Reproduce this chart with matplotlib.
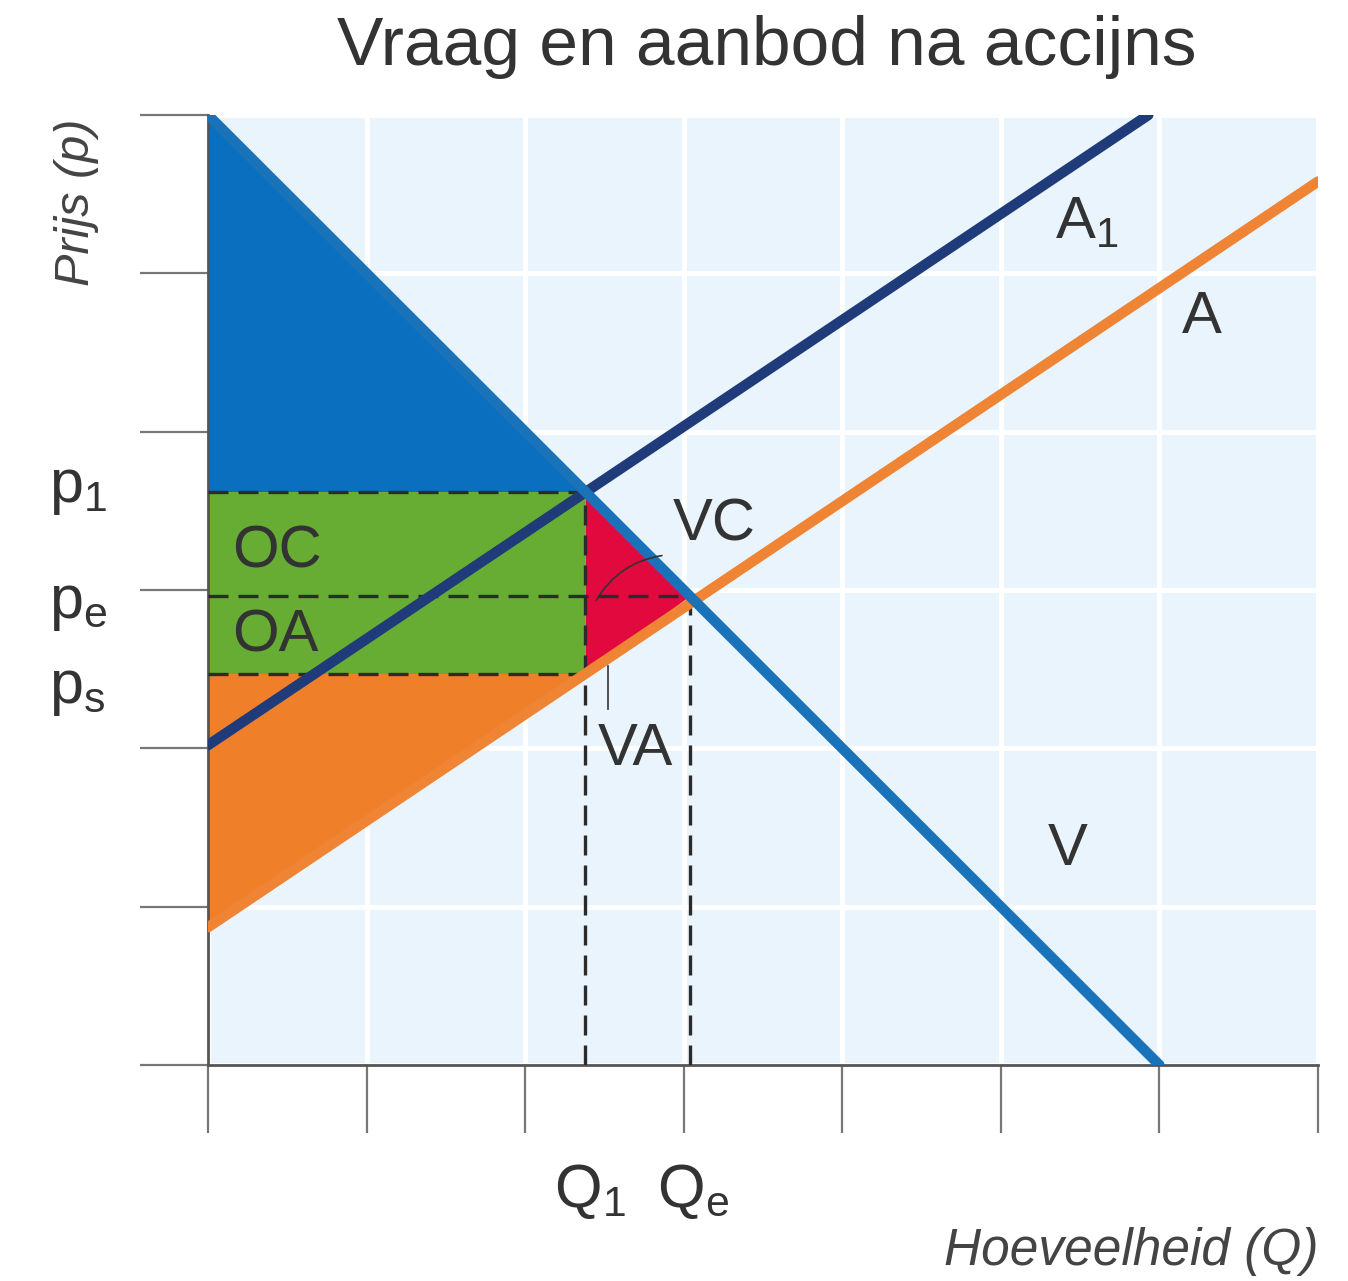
import matplotlib.pyplot as plt

# curves
v_q = [0, 6]
v_p = [6, 0]
a_q = [0, 7]
a_p = [0.87, 5.58]
a1_q = [0, 5.93]
a1_p = [2.02, 6.0]

# equilibrium values
q1, qe = 2.38, 3.04
p1, pe, ps = 3.62, 2.96, 2.47
a_start = 0.87

plt.rcParams['font.family'] = ['Liberation Sans', 'DejaVu Sans']

fig = plt.figure(figsize=(13.48, 12.81), dpi=100)
ax = fig.add_axes([208 / 1348, 216 / 1281, 1110 / 1348, 950 / 1281])
ax.set_xlim(0, 7)
ax.set_ylim(0, 6)
ax.set_facecolor('#e9f4fc')
ax.set_xticks(range(8))
ax.set_yticks(range(7))
ax.grid(color='white', linewidth=3.5)
ax.set_axisbelow(True)
ax.tick_params(length=49, width=1.6, color='#777777', labelbottom=False, labelleft=False)
for s in ['top', 'right']:
    ax.spines[s].set_visible(False)
for s in ['left', 'bottom']:
    ax.spines[s].set_color('#555555')
    ax.spines[s].set_linewidth(2)

# surplus areas
ax.fill([0, 0, q1], [6, p1, p1], color='#0b6fbf', lw=0, zorder=2)
ax.fill([0, 0, q1, q1], [ps, p1, p1, ps], color='#67ad34', lw=0, zorder=2)
ax.fill([q1, q1, qe], [p1, ps, pe], color='#e2093f', lw=0, zorder=2)
ax.fill([0, 0, q1], [a_start, ps, ps], color='#f07f2a', lw=0, zorder=2)

# dashed guide lines
dash = dict(color='#2b2b2b', lw=2.4, ls=(0, (6, 3)), zorder=3)
ax.plot([0, q1], [p1, p1], **dash)
ax.plot([0, qe], [pe, pe], **dash)
ax.plot([0, q1], [ps, ps], **dash)
ax.plot([q1, q1], [0, p1], **dash)
ax.plot([qe, qe], [0, pe], **dash)

# curves
ax.plot(a_q, a_p, color='#ee8434', lw=7.5, solid_capstyle='round', zorder=4)
ax.plot(a1_q, a1_p, color='#1f3b7a', lw=7.5, solid_capstyle='round', zorder=4)
ax.plot(v_q, v_p, color='#1a72b8', lw=7.5, solid_capstyle='round', zorder=5)

# area labels
lab = dict(fontsize=43, color='#333333', zorder=6)
ax.text(0.15, 3.24, 'OC', va='center', ha='left', **lab)
ax.text(0.15, 2.71, 'OA', va='center', ha='left', **lab)
ax.text(2.93, 3.41, 'VC', va='center', ha='left', **lab)
ax.text(2.46, 1.99, 'VA', va='center', ha='left', **lab)
ax.annotate('', xy=(2.44, 2.92), xytext=(2.88, 3.22),
            arrowprops=dict(arrowstyle='-', color='#333333', lw=1.2,
                            connectionstyle='arc3,rad=0.25'), zorder=6)
ax.plot([2.52, 2.52], [2.52, 2.25], color='#333333', lw=1.2, zorder=6)

# curve labels
ax.text(5.34, 5.32, r'A$_\mathregular{1}$', va='center', ha='left', **lab)
ax.text(6.27, 4.72, 'A', va='center', ha='center', **lab)
ax.text(5.42, 1.36, 'V', va='center', ha='center', **lab)

# axis value labels
tl = dict(fontsize=44, color='#333333', clip_on=False)
ax.text(-1.0, p1 + 0.02, r'p$_\mathregular{1}$', va='center', ha='left', **tl)
ax.text(-1.0, pe - 0.05, r'p$_\mathregular{e}$', va='center', ha='left', **tl)
ax.text(-1.0, ps - 0.1, r'p$_\mathregular{s}$', va='center', ha='left', **tl)
ax.text(q1 + 0.03, -0.8, r'Q$_\mathregular{1}$', va='center', ha='center', **tl)
ax.text(qe + 0.02, -0.8, r'Q$_\mathregular{e}$', va='center', ha='center', **tl)

ax.text(-0.83, 5.45, 'Prijs (p)', rotation=90, style='italic', fontsize=35,
        color='#444444', va='center', ha='center', clip_on=False)
ax.text(7.0, -1.18, 'Hoeveelheid (Q)', style='italic', fontsize=37,
        color='#444444', va='center', ha='right', clip_on=False)

fig.text(767 / 1348, 1 - 47 / 1281, 'Vraag en aanbod na accijns', fontsize=50,
         color='#333333', ha='center', va='center')

fig.savefig('out.png', dpi=100)
